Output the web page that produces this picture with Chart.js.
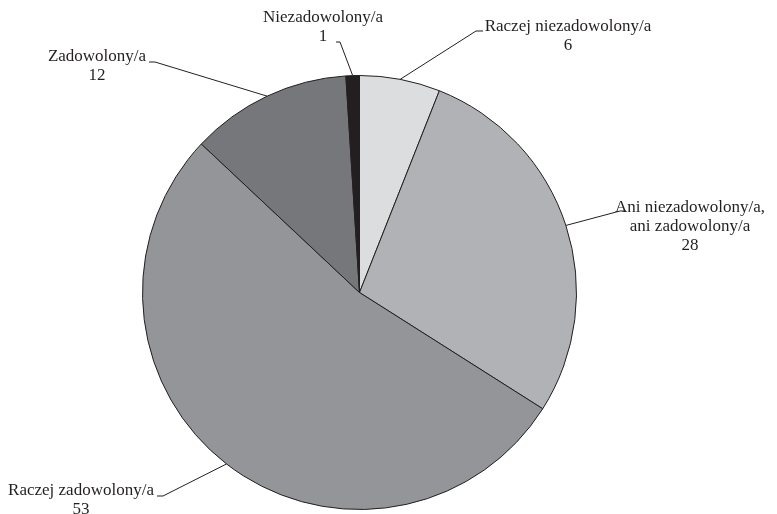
<!DOCTYPE html>
<html>
<head>
<meta charset="utf-8">
<script src="https://cdn.jsdelivr.net/npm/chart.js@4/dist/chart.umd.min.js"></script>
<style>
  html, body { margin: 0; padding: 0; background: #fff; }
  #wrap { width: 777px; height: 514px; }
</style>
</head>
<body>
<div id="wrap"><canvas id="pie" width="777" height="514"></canvas></div>
<script>
// data
const labels = [
    ['Raczej niezadowolony/a'],
    ['Ani niezadowolony/a,', 'ani zadowolony/a'],
    ['Raczej zadowolony/a'],
    ['Zadowolony/a'],
    ['Niezadowolony/a']
];
const values = [6, 28, 53, 12, 1];
const colors = ['#dcdddf', '#b1b2b5', '#939598', '#76777a', '#231f20'];

// leader line elbows and text anchors (pixels)
const callouts = [
    { elbow: [476, 31], end: [483, 31], tx: 568, ty: 27 },
    { elbow: [620, 211], end: [626, 211], tx: 690, ty: 208 },
    { elbow: [163, 496], end: [157, 496], tx: 81, ty: 491 },
    { elbow: [155, 62], end: [149, 62], tx: 97, ty: 57 },
    { elbow: [340, 42], end: [336, 42], tx: 323, ty: 18 }
];

const calloutPlugin = {
    id: 'callouts',
    afterDatasetsDraw(chart) {
        const ctx = chart.ctx;
        const meta = chart.getDatasetMeta(0);
        ctx.save();
        ctx.strokeStyle = '#231f20';
        ctx.lineWidth = 1;
        ctx.fillStyle = '#231f20';
        ctx.font = '17px "Liberation Serif", "Times New Roman", serif';
        ctx.textBaseline = 'middle';
        ctx.textAlign = 'center';
        meta.data.forEach((arc, i) => {
            const c = callouts[i];
            const mid = (arc.startAngle + arc.endAngle) / 2;
            const sx = arc.x + Math.cos(mid) * arc.outerRadius;
            const sy = arc.y + Math.sin(mid) * arc.outerRadius;
            ctx.beginPath();
            ctx.moveTo(sx, sy);
            ctx.lineTo(c.elbow[0], c.elbow[1]);
            ctx.lineTo(c.end[0], c.end[1]);
            ctx.stroke();

            const lines = labels[i].concat([String(values[i])]);
            lines.forEach((t, k) => {
                ctx.fillText(t, c.tx, c.ty + k * 19);
            });
        });
        ctx.restore();
    }
};

new Chart(document.getElementById('pie'), {
    type: 'pie',
    data: {
        labels: labels.map(l => l.join(' ')),
        datasets: [{
            data: values,
            backgroundColor: colors,
            borderColor: '#231f20',
            borderWidth: 1
        }]
    },
    options: {
        responsive: false,
        animation: false,
        layout: { padding: { top: 75, bottom: 4, left: 142, right: 200 } },
        plugins: {
            legend: { display: false },
            tooltip: { enabled: false }
        }
    },
    plugins: [calloutPlugin]
});
</script>
</body>
</html>
